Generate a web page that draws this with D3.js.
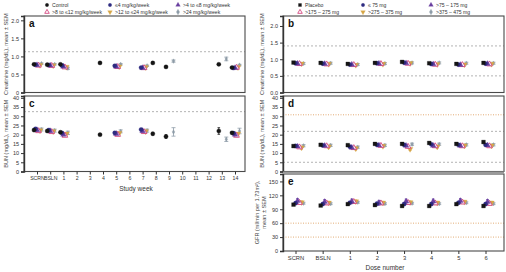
<!DOCTYPE html>
<html>
<head>
<meta charset="utf-8">
<script src="https://d3js.org/d3.v7.min.js"></script>
<style>
  body { margin: 0; background: #fff; }
  svg text { font-family: "Liberation Sans", Arial, sans-serif; }
</style>
</head>
<body>
<script>
// ---- categories ----
const weeks = ["SCRN", "BSLN", "1", "2", "3", "4", "5", "6", "7", "8", "9", "10", "11", "12", "13", "14"];
const doses = ["SCRN", "BSLN", "1", "2", "3", "4", "5", "6"];
const weekSeries = ["Control", "\u22644 mg/kg/week", ">4 to \u22648 mg/kg/week",
                    ">8 to \u226412 mg/kg/week", ">12 to \u226424 mg/kg/week", ">24 mg/kg/week"];
const doseSeries = ["Placebo", "\u2264 75 mg", ">75 \u2013 175 mg",
                    ">175 \u2013 275 mg", ">275 \u2013 375 mg", ">375 \u2013 475 mg"];

// ---- study-week data: [week, mean, SEM] ----
const creatWeek = [
  [["SCRN",0.78,0.02],["BSLN",0.77,0.02],["1",0.78,0.02],["4",0.82,0.02],["8",0.82,0.02],["9",0.71,0.02],["13",0.78,0.02],["14",0.69,0.02]],
  [["SCRN",0.77,0.02],["BSLN",0.76,0.02],["1",0.75,0.02],["5",0.74,0.02],["7",0.69,0.02],["14",0.68,0.02]],
  [["SCRN",0.76,0.02],["BSLN",0.75,0.02],["1",0.72,0.02],["5",0.72,0.02],["7",0.68,0.02],["14",0.68,0.02]],
  [["SCRN",0.75,0.02],["BSLN",0.74,0.02],["1",0.70,0.02],["5",0.71,0.02],["7",0.68,0.02],["14",0.69,0.02]],
  [["SCRN",0.76,0.02],["BSLN",0.75,0.02],["1",0.71,0.02],["5",0.72,0.02],["7",0.70,0.02],["14",0.70,0.02]],
  [["SCRN",0.80,0.02],["BSLN",0.78,0.02],["1",0.67,0.03],["5",0.78,0.02],["7",0.74,0.02],["9",0.87,0.03],["13",0.93,0.05],["14",0.76,0.02]]
];
const bunWeek = [
  [["SCRN",22.5,0.6],["BSLN",22.0,0.6],["1",21.3,0.6],["4",20.0,0.5],["8",20.5,0.8],["9",19.0,1.0],["13",22.0,1.8],["14",21.0,0.6]],
  [["SCRN",23.2,0.6],["BSLN",22.5,0.6],["1",21.0,0.6],["5",21.0,0.6],["7",22.8,0.6],["14",20.8,0.6]],
  [["SCRN",22.5,0.6],["BSLN",22.0,0.6],["1",20.0,0.6],["5",20.5,0.6],["7",22.0,0.6],["14",20.0,0.6]],
  [["SCRN",22.0,0.6],["BSLN",21.5,0.6],["1",19.5,0.6],["5",20.0,0.6],["7",21.5,0.6],["14",19.5,0.6]],
  [["SCRN",22.3,0.6],["BSLN",21.8,0.6],["1",20.5,0.6],["5",20.8,0.6],["7",21.8,0.6],["14",20.5,0.6]],
  [["SCRN",22.8,0.8],["BSLN",22.2,0.8],["1",21.0,0.9],["5",21.8,0.8],["7",22.2,0.8],["9",21.5,2.3],["13",17.5,1.2],["14",22.0,1.5]]
];

// ---- dose-number data: means and SEMs per series ----
const creatDose = [
  [0.90, 0.89, 0.86, 0.89, 0.92, 0.88, 0.86, 0.89],
  [0.88, 0.87, 0.84, 0.88, 0.90, 0.86, 0.84, 0.87],
  [0.87, 0.86, 0.84, 0.87, 0.88, 0.85, 0.83, 0.86],
  [0.86, 0.85, 0.83, 0.86, 0.87, 0.84, 0.83, 0.85],
  [0.87, 0.86, 0.83, 0.86, 0.88, 0.85, 0.84, 0.86],
  [0.87, 0.88, 0.84, 0.87, 0.89, 0.89, 0.88, 0.88]
];
const creatDoseSem = [0.02, 0.02, 0.02, 0.02, 0.02, 0.03];
const bunDose = [
  [13.8, 14.5, 14.3, 15.0, 15.0, 15.5, 15.0, 16.0],
  [13.9, 14.2, 13.5, 14.5, 14.5, 14.8, 14.5, 14.5],
  [13.6, 14.0, 13.0, 14.2, 14.0, 14.0, 14.0, 14.2],
  [13.2, 13.8, 12.8, 14.0, 13.5, 13.8, 13.8, 13.8],
  [13.0, 13.5, 12.5, 13.8, 12.2, 13.5, 14.0, 14.0],
  [14.0, 14.2, 13.2, 14.2, 14.8, 14.8, 14.5, 14.5]
];
const bunDoseSem = [0.5, 0.5, 0.6, 0.6, 0.8, 0.6];
const gfrDose = [
  [100, 98, 101, 99, 97, 97, 101, 97],
  [103, 101, 104, 102, 101, 101, 104, 101],
  [108, 106, 107, 104, 107, 107, 108, 106],
  [104, 103, 106, 103, 104, 103, 105, 102],
  [105, 104, 107, 104, 105, 104, 106, 104],
  [103, 102, 105, 102, 103, 102, 104, 102]
];
const gfrDoseSem = [2, 3, 5, 3, 3, 2];

// ---- styling ----
const colors = ["#151515", "#2e2b80", "#6a3fa0", "#d2467f", "#d6a646", "#8e9ca8"];
const weekSymbols = [d3.symbolCircle, d3.symbolCircle, d3.symbolTriangle, d3.symbolTriangle, "down", d3.symbolDiamond];
const doseSymbols = [d3.symbolSquare, d3.symbolCircle, d3.symbolTriangle, d3.symbolTriangle, "down", d3.symbolDiamond];
const openMarker = [false, false, false, true, false, false];

const svg = d3.select("body").append("svg").attr("width", 506).attr("height", 272);

const xWeek = d3.scalePoint().domain(weeks).range([37, 235]);
const xDose = d3.scalePoint().domain(doses).range([295.5, 485.5]);

function marker(g, type, x, y, color, open, size) {
  const t = type === "down" ? d3.symbolTriangle : type;
  g.append("path")
    .attr("d", d3.symbol().type(t).size(size)())
    .attr("transform", `translate(${x},${y})` + (type === "down" ? " rotate(180)" : ""))
    .attr("fill", open ? "#fff" : color)
    .attr("stroke", color)
    .attr("stroke-width", open ? 0.9 : 0.3);
}

function drawPanel(p) {
  const g = svg.append("g");
  const y = d3.scaleLinear().domain(p.yDomain).range([p.y1, p.y0]);

  // reference lines
  p.refs.forEach(r => {
    g.append("line")
      .attr("x1", p.x0).attr("x2", p.x1)
      .attr("y1", y(r.v)).attr("y2", y(r.v))
      .attr("stroke", r.c).attr("stroke-width", 0.9)
      .attr("stroke-dasharray", r.d);
  });

  // frame
  g.append("rect")
    .attr("x", p.x0).attr("y", p.y0)
    .attr("width", p.x1 - p.x0).attr("height", p.y1 - p.y0)
    .attr("fill", "none").attr("stroke", "#4a4a4a").attr("stroke-width", 1.1);

  // y axis
  g.append("g")
    .attr("transform", `translate(${p.x0},0)`)
    .call(d3.axisLeft(y).tickValues(p.yTicks).tickFormat(p.yFmt).tickSize(3).tickPadding(2))
    .call(a => {
      a.select(".domain").attr("stroke", "#333").attr("stroke-width", 1.4);
      a.selectAll(".tick line").attr("stroke", "#333");
      a.selectAll("text").attr("font-size", 5.5).attr("fill", "#333");
    });

  // y title (one or two lines)
  p.title.forEach((t, k) => {
    g.append("text")
      .attr("transform", `translate(${p.tx + k * 7},${(p.y0 + p.y1) / 2}) rotate(-90)`)
      .attr("text-anchor", "middle")
      .attr("font-size", 5.6).attr("fill", "#444")
      .text(t);
  });

  // panel letter
  g.append("text")
    .attr("x", p.x0 + 5).attr("y", p.y0 + 11)
    .attr("font-size", 10).attr("font-weight", "bold").attr("fill", "#111")
    .text(p.letter);

  // series, drawn last-to-first so the control sits on top
  for (let i = p.series.length - 1; i >= 0; i--) {
    p.series[i].forEach(d => {
      const cx = p.x(d[0]) + p.offsets[i];
      const cap = i === 5 ? 2 : 1.3;
      const lo = y(d[1] - d[2]), hi = y(d[1] + d[2]);
      g.append("line").attr("x1", cx).attr("x2", cx).attr("y1", lo).attr("y2", hi)
        .attr("stroke", colors[i]).attr("stroke-width", 0.8);
      [lo, hi].forEach(v => g.append("line")
        .attr("x1", cx - cap).attr("x2", cx + cap).attr("y1", v).attr("y2", v)
        .attr("stroke", colors[i]).attr("stroke-width", 0.8));
      marker(g, p.symbols[i], cx, y(d[1]), colors[i], openMarker[i], i === 5 ? 6 : 14);
    });
  }
  return y;
}

function bottomAxis(x, yPos, fontSize, label, labelX, labelY) {
  svg.append("g")
    .attr("transform", `translate(0,${yPos})`)
    .call(d3.axisBottom(x).tickSize(3).tickPadding(2))
    .call(a => {
      a.select(".domain").remove();
      a.selectAll(".tick line").attr("stroke", "#333");
      a.selectAll("text").attr("font-size", fontSize).attr("fill", "#333");
    });
  svg.append("text").attr("x", labelX).attr("y", labelY)
    .attr("text-anchor", "middle").attr("font-size", 6.5).attr("fill", "#333")
    .text(label);
}

function legend(names, symbols, xs) {
  names.forEach((n, i) => {
    const lx = xs[i % 3], ly = i < 3 ? 5 : 12;
    marker(svg, symbols[i], lx, ly, colors[i], openMarker[i], 9);
    svg.append("text").attr("x", lx + 5).attr("y", ly + 2)
      .attr("font-size", 5.1).attr("fill", "#333").text(n);
  });
}

const fmt1 = d => d === 0 ? "0" : d3.format(".1f")(d);
const grayDash = "#aaaaaa", orangeDot = "#e0a468";
const weekOffsets = [-3, -1.5, 0, 1.5, 3, 4.5];
const doseOffsets = [-2, 0, 2, 4, 6, 8];

// ---- left: study week ----
legend(weekSeries, weekSymbols, [47, 110, 178]);
drawPanel({ x0: 24, x1: 245, y0: 16, y1: 92.5, x: xWeek, yDomain: [0, 2.12], yTicks: [0, 0.5, 1, 1.5, 2],
  yFmt: fmt1, letter: "a", title: ["Creatinine (mg/dL), mean \u00b1 SEM"], tx: 8,
  refs: [{ v: 1.13, c: grayDash, d: "2,2" }], series: creatWeek, offsets: weekOffsets, symbols: weekSymbols });
drawPanel({ x0: 24, x1: 245, y0: 96, y1: 171.5, x: xWeek, yDomain: [0, 41.0], yTicks: d3.range(0, 41, 5),
  yFmt: d3.format("d"), letter: "c", title: ["BUN (mg/dL), mean \u00b1 SEM"], tx: 8,
  refs: [{ v: 32.5, c: grayDash, d: "2,2" }], series: bunWeek, offsets: weekOffsets, symbols: weekSymbols });
bottomAxis(xWeek, 171.5, 5.2, "Study week", 136, 191);

// ---- right: dose number ----
const asSeries = (means, sems) => means.map((row, i) => row.map((v, j) => [doses[j], v, sems[i]]));
legend(doseSeries, doseSymbols, [300, 363, 431]);
drawPanel({ x0: 283, x1: 504, y0: 16, y1: 92.5, x: xDose, yDomain: [0, 2.3], yTicks: [0, 0.5, 1, 1.5, 2],
  yFmt: d3.format(".1f"), letter: "b", title: ["Creatinine (mg/dL), mean \u00b1 SEM"], tx: 264,
  refs: [{ v: 1.4, c: grayDash, d: "2,2" }, { v: 0.5, c: grayDash, d: "2,2" }],
  series: asSeries(creatDose, creatDoseSem), offsets: doseOffsets, symbols: doseSymbols });
drawPanel({ x0: 283, x1: 504, y0: 96, y1: 171.5, x: xDose, yDomain: [0, 41.0], yTicks: d3.range(0, 41, 5),
  yFmt: d3.format("d"), letter: "d", title: ["BUN (mg/dL), mean \u00b1 SEM"], tx: 264,
  refs: [{ v: 30.8, c: orangeDot, d: "1,1.5" }, { v: 21.8, c: grayDash, d: "2,2" }, { v: 5, c: grayDash, d: "2,2" }],
  series: asSeries(bunDose, bunDoseSem), offsets: doseOffsets, symbols: doseSymbols });
drawPanel({ x0: 283, x1: 504, y0: 174, y1: 251, x: xDose, yDomain: [0, 166], yTicks: [0, 30, 60, 90, 120, 150],
  yFmt: d3.format("d"), letter: "e", title: ["GFR (ml/min per 1.73m\u00b2),", "mean \u00b1 SEM"], tx: 259,
  refs: [{ v: 60, c: orangeDot, d: "1,1.5" }, { v: 30, c: orangeDot, d: "1,1.5" }],
  series: asSeries(gfrDose, gfrDoseSem), offsets: doseOffsets, symbols: doseSymbols });
// grey separator between d and e
svg.append("line").attr("x1", 283).attr("x2", 504).attr("y1", 172.8).attr("y2", 172.8)
  .attr("stroke", "#9a9a9a").attr("stroke-width", 2.5);
bottomAxis(xDose, 251, 5.8, "Dose number", 385, 270);
</script>
</body>
</html>
